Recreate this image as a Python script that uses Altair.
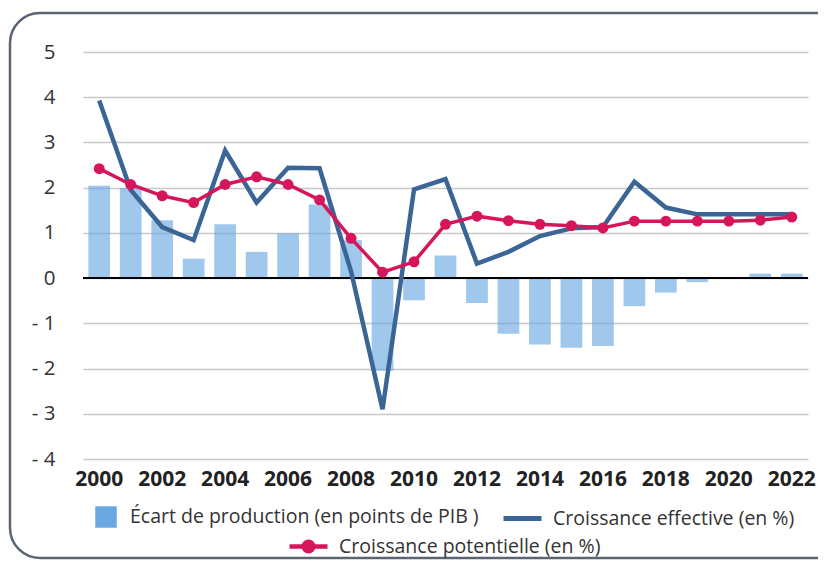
import altair as alt
import pandas as pd

years = list(range(2000, 2023))
ecart = [2.04, 1.99, 1.28, 0.43, 1.19, 0.58, 0.99, 1.63, 0.84, -2.05, -0.49, 0.50,
         -0.55, -1.23, -1.47, -1.54, -1.50, -0.62, -0.32, -0.09, 0.0, 0.10, 0.10]
effective = [3.93, 1.95, 1.13, 0.84, 2.82, 1.67, 2.44, 2.43, 0.15, -2.90, 1.96, 2.19,
             0.32, 0.58, 0.93, 1.10, 1.13, 2.13, 1.56, 1.41, 1.41, 1.41, 1.41]
potentielle = [2.42, 2.07, 1.82, 1.67, 2.07, 2.24, 2.07, 1.73, 0.88, 0.13, 0.36, 1.19,
               1.37, 1.27, 1.19, 1.16, 1.11, 1.26, 1.26, 1.26, 1.26, 1.28, 1.35]
label_years = list(range(2000, 2023, 2))
y_ticks = list(range(-4, 6))

name_ecart = "Écart de production (en points de PIB )"
name_eff = "Croissance effective (en %)"
name_pot = "Croissance potentielle (en %)"

FONT = "Open Sans"
BAR = "#6BA8E2"
BLUE = "#3A6595"
RED = "#D6165B"

df = pd.DataFrame({"year": years, "ecart": ecart, "eff": effective, "pot": potentielle})
df["s1"] = name_ecart
df["s2"] = name_eff
df["s3"] = name_pot

base = alt.Chart(df)

xenc = alt.X(
    "year:O",
    scale=alt.Scale(paddingInner=0.31, paddingOuter=0.17),
    axis=alt.Axis(values=label_years, title=None, labelAngle=0, labelFont=FONT,
                  labelFontWeight="bold", labelFontSize=21, labelColor="#222222",
                  ticks=False, domain=False, labelPadding=9, grid=False),
)
yscale = alt.Scale(domain=[-4, 5], nice=False)
yaxis = alt.Axis(values=y_ticks, title=None,
                 labelExpr="datum.value < 0 ? '- ' + abs(datum.value) : '' + datum.value",
                 labelFont=FONT, labelFontSize=20.5, labelColor="#333333", labelPadding=28,
                 ticks=False, domain=False, grid=True, gridColor="#c8c8c8", gridWidth=1.5)


def yenc(field):
    return alt.Y(field, scale=yscale, axis=yaxis, title=None)


leg_common = dict(title=None, orient="none", labelFont=FONT, labelFontSize=19.5,
                  labelColor="#333333", labelLimit=600, padding=0)

bars = base.mark_bar(fillOpacity=0.64).encode(
    x=xenc,
    y=yenc("ecart:Q"),
    fill=alt.Fill("s1:N", scale=alt.Scale(domain=[name_ecart], range=[BAR]),
                  legend=alt.Legend(legendX=12, legendY=454, symbolType="square",
                                    symbolSize=462, labelOffset=13, symbolOpacity=1,
                                    symbolStrokeWidth=0, **leg_common)),
)

zero = alt.Chart(pd.DataFrame({"z": [0]})).mark_rule(color="black", strokeWidth=2).encode(
    y=yenc("z:Q")
)

eff_line = base.mark_line(strokeWidth=4.5).encode(
    x=xenc,
    y=yenc("eff:Q"),
    stroke=alt.Stroke("s2:N", scale=alt.Scale(domain=[name_eff], range=[BLUE]),
                      legend=alt.Legend(legendX=418, legendY=445, symbolType="stroke",
                                        symbolSize=1444, symbolStrokeWidth=5, labelOffset=9,
                                        **leg_common)),
)

pot_path = "M-1,0H1M0.25,0A0.25,0.25,0,1,1,-0.25,0A0.25,0.25,0,1,1,0.25,0Z"
pot_line = base.mark_line(strokeWidth=3.5).encode(
    x=xenc,
    y=yenc("pot:Q"),
    color=alt.Color("s3:N", scale=alt.Scale(domain=[name_pot], range=[RED]),
                    legend=alt.Legend(legendX=204, legendY=473, symbolType=pot_path,
                                      symbolSize=1444, symbolStrokeWidth=4.5,
                                      symbolFillColor=RED, symbolStrokeColor=RED,
                                      labelOffset=9, **leg_common)),
)
pot_pts = base.mark_circle(size=120, opacity=1, color=RED).encode(
    x=xenc,
    y=yenc("pot:Q"),
)

frame = alt.Chart(pd.DataFrame({"a": [0]})).mark_rect(
    fill="white", fillOpacity=0, stroke="#5b6473", strokeWidth=2.5, cornerRadius=30
).encode(x=alt.value(-73), x2=alt.value(765), y=alt.value(-39), y2=alt.value(506))

chart = alt.layer(bars, zero, eff_line, pot_line, pot_pts, frame).properties(
    width=725, height=407,
    padding={"left": 75, "top": 44, "right": 10, "bottom": 101},
    autosize=alt.AutoSizeParams(type="none"),
    background="white",
).configure_view(stroke=None)

chart.save("out.html", embed_options={"renderer": "svg", "actions": False})
